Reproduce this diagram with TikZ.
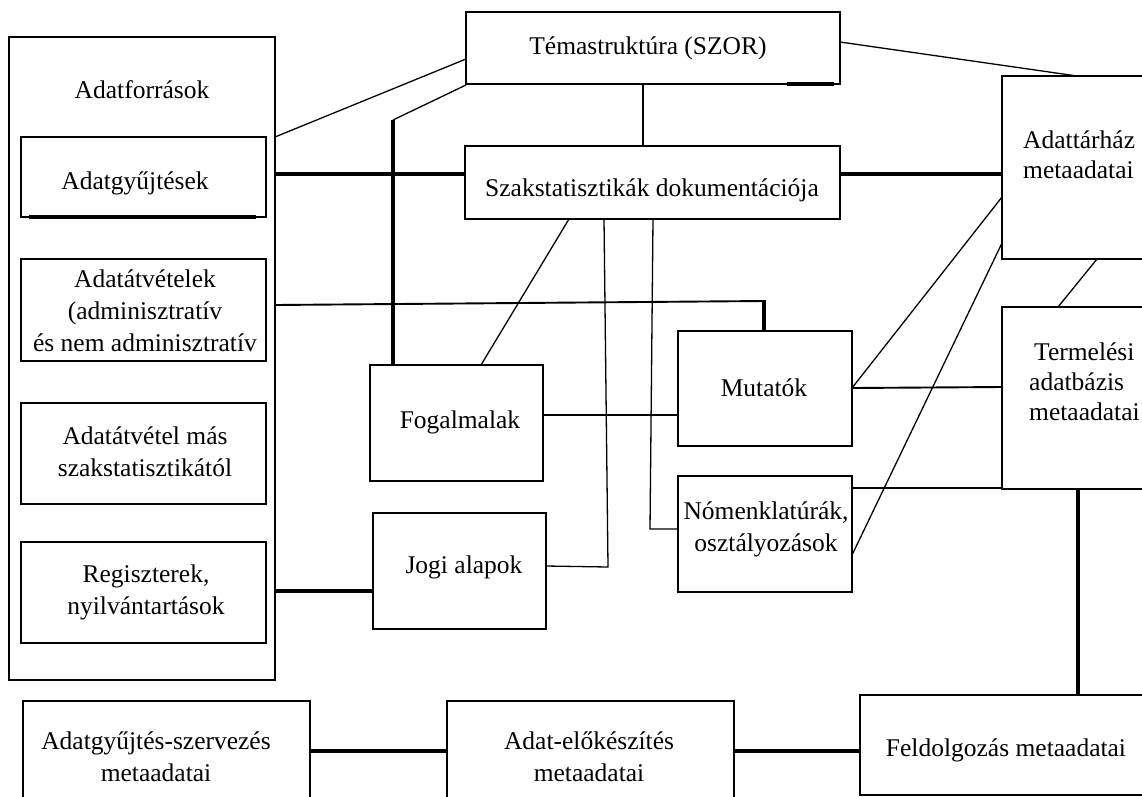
\documentclass[tikz,border=0pt]{standalone}
\usepackage{fontspec}
\setmainfont{Liberation Serif}
\begin{document}
\begin{tikzpicture}[x=1pt,y=-1pt,
  box/.style={draw, line width=1.6pt, inner sep=0pt, outer sep=0pt, rectangle},
  lbl/.style={font=\fontsize{25.5}{32}\selectfont, align=center, inner sep=0pt},
  lbll/.style={font=\fontsize{25.5}{30}\selectfont, align=left, inner sep=0pt, anchor=west},
  thinline/.style={line width=1.3pt},
  midline/.style={line width=1.9pt},
  thickline/.style={line width=3.2pt}
]
\useasboundingbox (0,0) rectangle (1142,796);
\fill[white] (0,0) rectangle (1142,796);
\clip (0,0) rectangle (1142,796);

% data sources column
\node[box, minimum width=266, minimum height=643] (src) at (142,358.5) {};
\node[box, minimum width=245, minimum height=80]  (gy)  at (143.5,177) {};
\node[box, minimum width=245, minimum height=102] (atv) at (143.5,310) {};
\node[box, minimum width=245, minimum height=101] (mas) at (143.5,453.5) {};
\node[box, minimum width=245, minimum height=101] (reg) at (143.5,592.5) {};
\draw[thickline] ([xshift=8]gy.south west) -- ([xshift=-10]gy.south east);

% central boxes
\node[box, minimum width=374, minimum height=72]  (tema) at (653,48) {};
\node[box, minimum width=375, minimum height=73]  (szak) at (652.5,182.5) {};
\node[box, minimum width=173, minimum height=116] (fog)  at (456.5,423) {};
\node[box, minimum width=173, minimum height=116] (jogi) at (459.5,571) {};
\node[box, minimum width=174, minimum height=115] (mut)  at (765,388.5) {};
\node[box, minimum width=174, minimum height=116] (nom)  at (765,534) {};
\draw[thickline] (tema.south -| 787,0) -- (tema.south -| 834,0);

% right-hand boxes
\node[box, minimum width=156, minimum height=183] (dw)   at (1080,167.5) {};
\node[box, minimum width=156, minimum height=182] (prod) at (1080,398) {};

% bottom row
\node[box, minimum width=287, minimum height=129] (gysz) at (166.5,765.5) {};
\node[box, minimum width=287, minimum height=129] (elo)  at (590.5,765.5) {};
\node[box, minimum width=292, minimum height=100] (feld) at (1006,745) {};

% labels
\node[lbl] (t-src)  at (142,90)  {Adatforrások};
\node[lbl] (t-gy)   at (135,183) {Adatgyűjtések};
\node[lbl] (t-atv)  at (145,311) {Adatátvételek\\(adminisztratív\\és nem adminisztratív};
\node[lbl] (t-mas)  at (145,452) {Adatátvétel más\\szakstatisztikától};
\node[lbl] (t-reg)  at (146,592) {Regiszterek,\\nyilvántartások};
\node[lbl] (t-tema) at (648,48)  {Témastruktúra (SZOR)};
\node[lbl] (t-szak) at (652,190) {Szakstatisztikák dokumentációja};
\node[lbl] (t-fog)  at (460,422) {Fogalmalak};
\node[lbl] (t-jogi) at (464,567) {Jogi alapok};
\node[lbl] (t-mut)  at (764,388) {Mutatók};
\node[lbl] (t-nom)  at (766,529) {Nómenklatúrák,\\osztályozások};
\node[lbll] (t-dw)   at (1023,155) {Adattárház\\metaadatai};
\node[lbll] (t-prod) at (1029,382) {\hspace*{5pt}Termelési\\adatbázis\\metaadatai};
\node[lbl] (t-gysz) at (156,757) {Adatgyűjtés-szervezés\\metaadatai};
\node[lbl] (t-elo)  at (589,757) {Adat-előkészítés\\metaadatai};
\node[lbl] (t-feld) at (1006,750) {Feldolgozás metaadatai};

% connectors
\draw[thinline] (src.east |- gy.north) -- (tema.west |- 0,59);
\draw[thinline] (tema.west |- 0,85) -- (393,120) coordinate (bend1);
\draw[thickline] (bend1) -- (fog.north -| bend1);
\draw[midline] (tema.south -| 643,0) -- (szak.north -| 643,0);
\draw[thickline] (src.east |- 0,174) -- (szak.west |- 0,174);
\draw[thickline] (szak.east |- 0,174) -- (dw.west |- 0,174);
\draw[thinline] (tema.east |- 0,42) -- (dw.north -| 1077,0);
\draw[thinline] (szak.south -| 569,0) -- (fog.north -| 481,0);
\draw[thinline] (szak.south -| 604,0) -- (608,567) coordinate (bend2) -- (jogi.east |- 0,566);
\draw[thinline] (szak.south -| 653,0) -- (650,529) coordinate (bend3) -- (nom.west |- bend3);
\draw[midline] (src.east |- 0,305) -- (764,301) coordinate (bend4);
\draw[thickline] ([yshift=1pt]bend4) -- (mut.north -| bend4);
\draw[thickline] (src.east |- 0,591) -- (jogi.west |- 0,591);
\draw[midline] (fog.east |- 0,415) -- (mut.west |- 0,415);
\draw[midline] (mut.east |- 0,388) -- (prod.west |- 0,387);
\draw[thinline] (mut.east |- 0,388) -- (dw.west |- 0,197);
\draw[thinline] (nom.east |- 0,555) -- (dw.west |- 0,243);
\draw[midline] (nom.east |- 0,488) -- (prod.west |- 0,488);
\draw[thinline] (dw.south -| 1097,0) -- (prod.north -| 1058,0);
\draw[thickline] (prod.south -| 1078,0) -- (feld.north -| 1078,0);
\draw[thickline] (gysz.east |- 0,751) -- (elo.west |- 0,751);
\draw[thickline] (elo.east |- 0,751) -- (feld.west |- 0,751);
\end{tikzpicture}
\end{document}
